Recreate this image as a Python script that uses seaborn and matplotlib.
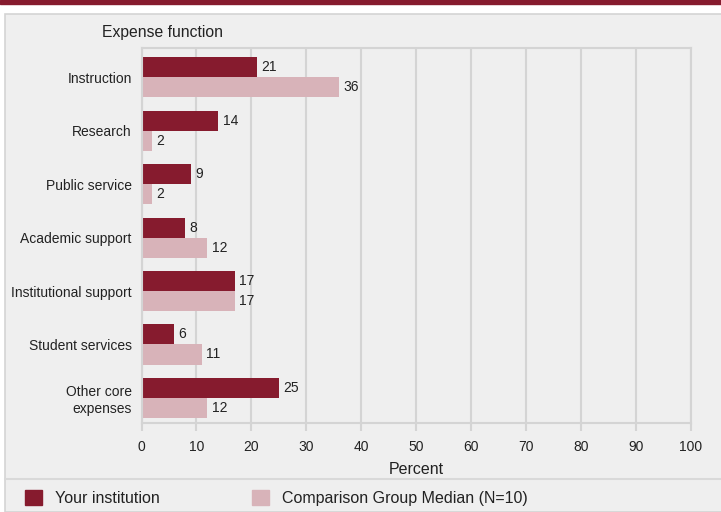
import pandas as pd
import seaborn as sns
import matplotlib.pyplot as plt
from matplotlib.patches import Rectangle
from matplotlib.lines import Line2D

# Data
functions = ['Instruction', 'Research', 'Public service', 'Academic support',
             'Institutional support', 'Student services', 'Other core\nexpenses']
your_inst = [21, 14, 9, 8, 17, 6, 25]
comp_median = [36, 2, 2, 12, 17, 11, 12]
groups = ['Your institution', 'Comparison Group Median (N=10)']
x_ticks = list(range(0, 101, 10))

dark_red = '#861b2e'
light_pink = '#d8b3b9'
panel_bg = '#efefef'
grid_col = '#d4d4d4'

df = pd.DataFrame({
    'function': functions * 2,
    'value': your_inst + comp_median,
    'group': [groups[0]] * len(functions) + [groups[1]] * len(functions),
})

sns.set_theme(style='white')
plt.rcParams['font.family'] = ['Liberation Sans', 'DejaVu Sans']

W, H = 721, 512
fig = plt.figure(figsize=(W / 100, H / 100), dpi=100, facecolor='white')

# background panel + top band
fig.patches.append(Rectangle((0, 1 - 4 / H), 1, 4 / H, transform=fig.transFigure,
                             color=dark_red, zorder=0))
fig.patches.append(Rectangle((5 / W, 0), 1, 1 - 14 / H, transform=fig.transFigure,
                             facecolor=panel_bg, edgecolor=grid_col, linewidth=1.2, zorder=0))
fig.lines.append(Line2D([5 / W, 1], [1 - 478.5 / H] * 2, transform=fig.transFigure,
                        color='#d9d9d9', linewidth=1.5))

ax = fig.add_axes([141.5 / W, 1 - 423 / H, (691 - 141.5) / W, (423 - 48) / H])
ax.set_zorder(2)
ax.set_facecolor(panel_bg)

sns.barplot(data=df, y='function', x='value', hue='group', orient='h',
            palette=[dark_red, light_pink], saturation=1, width=0.75,
            linewidth=0, legend=False, ax=ax)

for container in ax.containers:
    ax.bar_label(container, fmt='%g', padding=3, fontsize=10, color='#222222')

ax.set_xlim(0, 100)
ax.set_ylim(6.47, -0.55)
ax.set_xticks(x_ticks)
ax.xaxis.grid(True, color=grid_col, linewidth=1.5)
ax.set_axisbelow(True)
for sp in ax.spines.values():
    sp.set_color(grid_col)
    sp.set_linewidth(1.5)
ax.tick_params(axis='y', length=0, pad=7, labelsize=10, labelcolor='#222222')
ax.tick_params(axis='x', bottom=True, direction='out', length=6, width=1.5, color=grid_col,
               pad=6, labelsize=10, labelcolor='#222222')
ax.set_ylabel('')
ax.set_xlabel('Percent', fontsize=11.5, color='#222222', labelpad=6)

fig.text(102 / W, 1 - 33 / H, 'Expense function', fontsize=11.3, color='#222222', va='center')

# legend at the bottom strip
handles = [Rectangle((0, 0), 1, 1, color=dark_red), Rectangle((0, 0), 1, 1, color=light_pink)]
fig.legend(handles, groups, loc='center left', bbox_to_anchor=(17 / W, 1 - 498 / H),
           ncol=2, frameon=False, handlelength=1.06, handleheight=1.06, handletextpad=0.8,
           columnspacing=5.8, fontsize=11.5, labelcolor='#222222', borderpad=0)

plt.savefig('out.png', dpi=100, facecolor=fig.get_facecolor())
